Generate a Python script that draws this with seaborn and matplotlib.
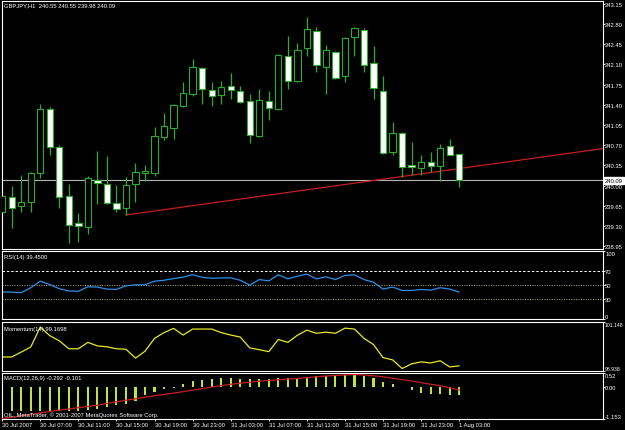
import matplotlib
matplotlib.use("Agg")
import matplotlib.pyplot as plt
import matplotlib.transforms as mtransforms
import numpy as np
import pandas as pd
import seaborn as sns

# ---------------------------------------------------------------------
# GBPJPY H1 bars, 30 Jul 03:00 .. 1 Aug 03:00
# ---------------------------------------------------------------------
opens = [239.54, 239.80, 239.64, 239.71, 240.22, 241.33, 240.67, 239.82, 239.35, 239.28,
         240.09, 240.02, 239.70, 239.61, 240.02, 240.22, 240.22, 240.84, 241.00, 241.38,
         241.59, 242.04, 241.66, 241.57, 241.73, 241.64, 241.47, 240.86, 241.47, 241.33,
         242.25, 241.81, 242.39, 242.68, 242.06, 242.32, 241.90, 242.58, 242.70, 242.13,
         241.64, 240.58, 240.91, 240.35, 240.30, 240.41, 240.34, 240.68, 240.55]
highs = [239.89, 239.99, 240.18, 240.24, 241.41, 241.36, 240.70, 240.02, 239.52, 240.16,
         240.60, 240.51, 240.01, 240.15, 240.39, 240.35, 241.01, 241.26, 241.42, 241.80,
         242.20, 242.06, 241.80, 241.81, 241.95, 241.73, 241.59, 241.67, 241.64, 242.28,
         242.59, 242.47, 242.92, 242.75, 242.44, 242.34, 242.58, 242.75, 242.73, 242.42,
         241.90, 241.10, 240.93, 240.75, 240.53, 240.58, 240.72, 240.81, 240.55]
lows = [239.45, 239.26, 239.54, 239.54, 240.13, 240.53, 239.61, 239.00, 239.02, 239.16,
        239.68, 239.68, 239.54, 239.49, 239.71, 240.08, 240.16, 240.79, 240.81, 241.36,
        241.55, 241.41, 241.38, 241.41, 241.50, 241.43, 240.74, 240.84, 241.14, 241.31,
        241.67, 241.80, 242.25, 241.97, 241.59, 241.85, 241.80, 242.25, 241.97, 241.50,
        240.55, 240.53, 240.15, 240.18, 240.18, 240.23, 240.08, 240.53, 239.98]
closes = [239.82, 239.61, 239.71, 240.22, 241.33, 240.67, 239.80, 239.31, 239.30, 240.13,
          240.04, 239.70, 239.59, 240.01, 240.23, 240.25, 240.86, 241.03, 241.40, 241.60,
          242.06, 241.67, 241.55, 241.71, 241.66, 241.45, 240.88, 241.48, 241.34, 242.26,
          241.81, 242.35, 242.72, 242.09, 242.35, 241.87, 242.56, 242.73, 242.09, 241.69,
          240.56, 240.91, 240.32, 240.32, 240.41, 240.34, 240.65, 240.53, 240.09]

rsi = [39.7, 39.5, 38.7, 46.0, 55.6, 50.7, 44.5, 41.2, 40.8, 47.4,
       47.0, 44.0, 43.5, 48.8, 50.3, 50.3, 55.6, 57.0, 59.4, 61.4,
       65.2, 61.4, 60.0, 60.3, 60.6, 57.0, 49.9, 58.0, 56.0, 65.0,
       59.0, 63.0, 66.0, 59.0, 62.0, 58.0, 64.0, 65.0, 58.0, 54.0,
       44.0, 47.0, 42.0, 42.0, 43.5, 42.5, 46.0, 44.0, 39.45]

momentum = [99.57, 99.57, 99.79, 100.02, 100.92, 100.53, 100.30, 99.94, 99.94, 100.23,
            100.07, 100.03, 99.94, 99.92, 99.52, 99.83, 100.41, 100.67, 100.86, 100.56,
            100.83, 100.83, 100.83, 100.67, 100.56, 100.47, 99.98, 99.90, 99.81, 100.36,
            100.23, 100.55, 100.78, 100.64, 100.69, 100.64, 100.87, 100.83, 100.41, 100.13,
            99.54, 99.44, 99.05, 99.26, 99.35, 99.30, 99.40, 99.12, 99.17]

macd_main = [-0.87, -0.87, -0.87, -0.86, -0.85, -0.85, -0.86, -0.87, -0.87, -0.83,
             -0.80, -0.72, -0.64, -0.62, -0.50, -0.28, -0.18, -0.08, -0.01, 0.11,
             0.23, 0.27, 0.30, 0.33, 0.33, 0.31, 0.29, 0.30, 0.30, 0.33,
             0.34, 0.35, 0.36, 0.40, 0.40, 0.42, 0.45, 0.46, 0.40, 0.34,
             0.20, 0.12, 0.01, -0.09, -0.21, -0.24, -0.24, -0.27, -0.292]
macd_signal = [-1.14, -1.09, -1.04, -0.99, -0.93, -0.88, -0.83, -0.79, -0.74, -0.70,
               -0.65, -0.59, -0.53, -0.47, -0.42, -0.36, -0.31, -0.26, -0.21, -0.16,
               -0.10, -0.05, 0.01, 0.06, 0.11, 0.15, 0.18, 0.22, 0.25, 0.27,
               0.30, 0.32, 0.35, 0.38, 0.41, 0.43, 0.45, 0.46, 0.45, 0.42,
               0.38, 0.33, 0.28, 0.23, 0.17, 0.11, 0.06, -0.02, -0.10]

# trend line drawn on the chart (bar index, price)
trend_bars = [13, 70]
trend_prices = [239.49, 240.80]

price_ticks = [243.15, 242.80, 242.45, 242.10, 241.75, 241.40, 241.05,
               240.70, 240.35, 240.00, 239.65, 239.30, 238.95]
time_ticks = [0, 4, 8, 12, 16, 20, 24, 28, 32, 36, 40, 44, 48]
time_labels = ["30 Jul 2007", "30 Jul 07:00", "30 Jul 11:00", "30 Jul 15:00",
               "30 Jul 19:00", "30 Jul 23:00", "31 Jul 03:00", "31 Jul 07:00",
               "31 Jul 11:00", "31 Jul 15:00", "31 Jul 19:00", "31 Jul 23:00",
               "1 Aug 03:00"]

df = pd.DataFrame({"open": opens, "high": highs, "low": lows, "close": closes,
                   "rsi": rsi, "mom": momentum, "macd": macd_main, "signal": macd_signal})
df["bar"] = np.arange(len(df))

# ---------------------------------------------------------------------
sns.set_theme(style="dark", rc={"axes.facecolor": "black", "figure.facecolor": "black"})
plt.rcParams["font.family"] = ["Liberation Sans", "DejaVu Sans"]

FS = 4.2
GREEN = "#2aae2a"
W, H = 625, 431

fig = plt.figure(figsize=(6.25, 4.31), dpi=100, facecolor="black")


def panel(top, bottom):
    ax = fig.add_axes([2 / W, 1 - bottom / H, 601 / W, (bottom - top) / H])
    ax.set_facecolor("black")
    for s in ax.spines.values():
        s.set_color("white")
        s.set_linewidth(0.8)
    ax.set_xlim(-0.02, 63.1)
    ax.grid(False)
    ax.yaxis.tick_right()
    ax.tick_params(axis="y", colors="white", labelsize=FS, length=1.2, width=0.6,
                   pad=0.3, right=True, left=False)
    ax.tick_params(axis="x", bottom=False, labelbottom=False)
    ax.set_xlabel("")
    ax.set_ylabel("")
    return ax


def edge_labels(ax):
    labels = ax.get_yticklabels()
    labels[0].set_va("bottom")
    labels[-1].set_va("top")


# --- price panel ------------------------------------------------------
ax = panel(2, 250)
ax.set_ylim(238.90, 243.20)
ax.axhline(df["close"].iloc[-1], color="#b4b4b4", lw=0.8, zorder=1)
ax.plot(trend_bars, trend_prices, color="#c41e1e", lw=0.9, zorder=1.5)
ax.vlines(df["bar"], df["low"], df["high"], color=GREEN, lw=0.9, zorder=2)
bull = df["close"] >= df["open"]
body_bottom = df[["open", "close"]].min(axis=1)
body_h = (df["close"] - df["open"]).abs().clip(lower=0.012)
ax.bar(df["bar"], body_h, bottom=body_bottom, width=0.66,
       color=np.where(bull, "black", "white"), edgecolor=GREEN, linewidth=0.8, zorder=3)
ax.set_yticks(price_ticks)
ax.set_yticklabels([f"{t:.2f}" for t in price_ticks])
trans = mtransforms.blended_transform_factory(ax.transAxes, ax.transData)
ax.text(1.003, df["close"].iloc[-1], f"{df['close'].iloc[-1]:.2f}", transform=trans,
        color="black", fontsize=FS, va="center", ha="left", clip_on=False, zorder=5,
        bbox=dict(boxstyle="square,pad=0.15", fc="white", ec="white"))
ax.text(0.004, 0.995, "GBPJPY,H1  240.55 240.55 239.98 240.09", transform=ax.transAxes,
        color="white", fontsize=FS, va="top", ha="left")

# --- RSI --------------------------------------------------------------
ax2 = panel(252, 320)
ax2.set_ylim(0, 100)
ax2.axhline(70, color="white", lw=0.7, ls=(0, (2.5, 2)))
ax2.axhline(50, color="#b0b07c", lw=0.7, ls=(0, (1, 1.5)))
ax2.axhline(30, color="#b0b07c", lw=0.7, ls=(0, (1, 1.5)))
sns.lineplot(data=df, x="bar", y="rsi", ax=ax2, color="#2e8ee8", lw=0.9, legend=False)
ax2.set_xlim(-0.02, 63.1)
ax2.set_xlabel("")
ax2.set_ylabel("")
ax2.set_yticks([0, 30, 50, 70, 100])
ax2.set_yticklabels(["0", "30", "50", "70", "100"])
edge_labels(ax2)
ax2.tick_params(axis="x", bottom=False, labelbottom=False)
ax2.text(0.004, 0.95, "RSI(14) 39.4500", transform=ax2.transAxes,
         color="white", fontsize=FS, va="top", ha="left")

# --- Momentum ---------------------------------------------------------
ax3 = panel(323, 372)
ax3.set_ylim(98.938, 101.148)
sns.lineplot(data=df, x="bar", y="mom", ax=ax3, color="#e8e82a", lw=0.9, legend=False)
ax3.set_xlim(-0.02, 63.1)
ax3.set_xlabel("")
ax3.set_ylabel("")
ax3.set_yticks([98.938, 101.148])
ax3.set_yticklabels(["98.938", "101.148"])
ax3.tick_params(axis="y", labelsize=3.7, pad=0.2)
edge_labels(ax3)
ax3.tick_params(axis="x", bottom=False, labelbottom=False)
ax3.text(0.004, 0.92, "Momentum(14) 99.1698", transform=ax3.transAxes,
         color="white", fontsize=FS, va="top", ha="left")

# --- MACD -------------------------------------------------------------
ax4 = panel(374, 420)
ax4.set_ylim(-1.153, 0.52)
ax4.bar(df["bar"], df["macd"], width=0.22, color="#bce446", linewidth=0, zorder=2)
sns.lineplot(data=df, x="bar", y="signal", ax=ax4, color="#c41e1e", lw=0.9,
             legend=False, zorder=3)
ax4.set_xlim(-0.02, 63.1)
ax4.set_xlabel("")
ax4.set_ylabel("")
ax4.set_yticks([-1.153, 0.0, 0.52])
ax4.set_yticklabels(["-1.153", "0.00", "0.52"])
edge_labels(ax4)
ax4.set_xticks(time_ticks)
ax4.set_xticklabels(time_labels)
ax4.tick_params(axis="x", bottom=True, labelbottom=True, colors="white",
                labelsize=FS, length=1.5, width=0.6, pad=0.6)
for lbl in ax4.get_xticklabels():
    lbl.set_ha("left")
ax4.text(0.004, 0.95, "MACD(12,26,9) -0.292 -0.101", transform=ax4.transAxes,
         color="white", fontsize=FS, va="top", ha="left")
ax4.text(0.004, 0.04, "OIL, MetaTrader, \u00a9 2001-2007 MetaQuotes Software Corp.",
         transform=ax4.transAxes, color="white", fontsize=FS, va="bottom", ha="left",
         zorder=4)

fig.savefig("out.png", dpi=100, facecolor="black")
